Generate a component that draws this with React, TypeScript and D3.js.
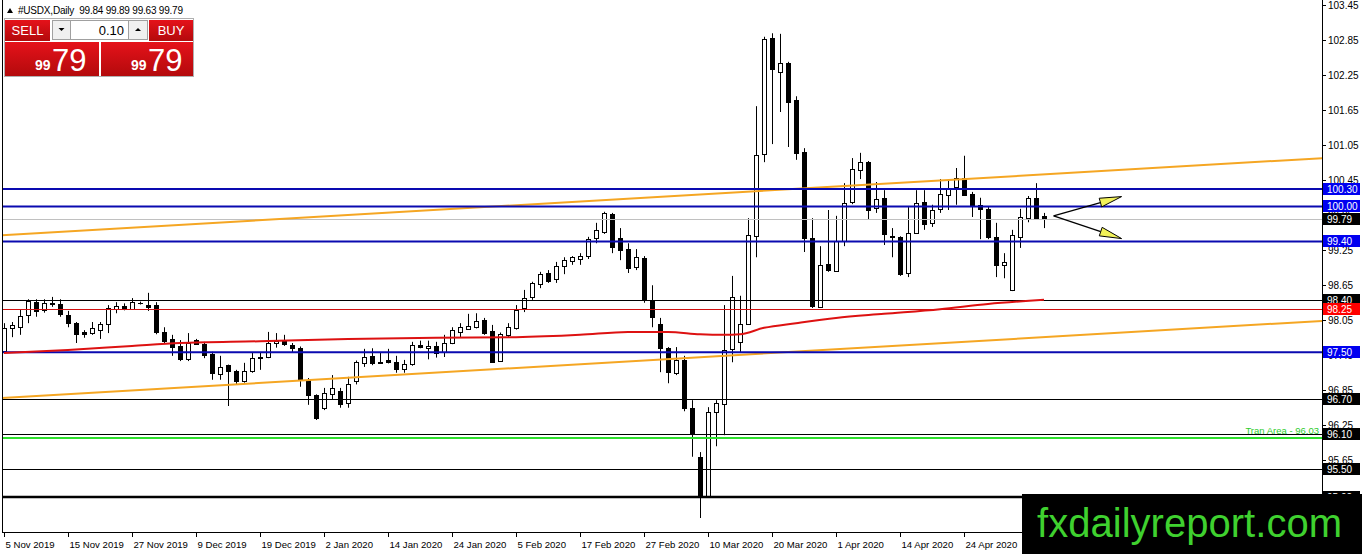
import * as d3 from 'd3';

// daily USDX candles, 5 Nov 2019 .. 8 May 2020
const opens = [
  97.52, 97.92, 97.93, 98.14, 98.36, 98.22, 98.33, 98.33, 98.14, 98.0,
  97.84, 97.83, 97.88, 97.98, 98.24, 98.29, 98.24, 98.35, 98.31, 98.31,
  97.85, 97.73, 97.61, 97.38, 97.71, 97.64, 97.47, 97.13, 97.28, 97.18,
  97.01, 97.18, 97.4, 97.42, 97.66, 97.7, 97.63, 97.58, 97.03, 96.77,
  96.55, 96.79, 96.84, 96.63, 97.0, 97.32, 97.43, 97.32, 97.36, 97.34,
  97.21, 97.3, 97.63, 97.58, 97.61, 97.5, 97.66, 97.85, 97.9, 97.93,
  98.05, 97.86, 97.35, 97.8, 97.91, 98.26, 98.45, 98.67, 98.86, 98.76,
  98.98, 99.07, 99.1, 99.15, 99.46, 99.57, 99.87, 99.46, 99.27, 98.96,
  99.12, 98.4, 97.98, 97.57, 97.15, 97.37, 96.55, 95.71, 95.04, 96.48,
  96.61, 97.56, 97.68, 97.99, 99.49, 100.9, 102.89, 102.31, 102.46, 101.83,
  100.93, 99.46, 98.28, 99.01, 98.89, 99.41, 100.08, 100.63, 100.76, 99.97,
  100.15, 99.49, 99.48, 98.86, 99.55, 100.08, 99.72, 99.96, 100.2, 100.34,
  100.49, 100.21, 100.03, 99.96, 99.48, 99.0, 98.57, 99.48, 99.8, 100.15,
  99.84,
];
const highs = [
  98.0, 98.02, 98.23, 98.41, 98.41, 98.41, 98.45, 98.41, 98.21, 98.02,
  97.88, 98.02, 98.02, 98.31, 98.36, 98.34, 98.43, 98.37, 98.52, 98.36,
  97.93, 97.8, 97.71, 97.83, 97.73, 97.68, 97.51, 97.44, 97.29, 97.2,
  97.32, 97.49, 97.49, 97.85, 97.83, 97.8, 97.66, 97.6, 97.06, 96.78,
  96.89, 97.11, 96.89, 97.08, 97.36, 97.56, 97.57, 97.49, 97.56, 97.44,
  97.37, 97.68, 97.7, 97.7, 97.68, 97.8, 97.93, 98.0, 98.16, 98.17,
  98.09, 97.97, 97.84, 98.0, 98.31, 98.57, 98.71, 98.88, 98.91, 99.05,
  99.13, 99.15, 99.2, 99.48, 99.72, 99.91, 99.89, 99.63, 99.37, 99.27,
  99.15, 98.65, 98.09, 97.59, 97.59, 97.44, 96.68, 95.79, 96.56, 96.68,
  98.31, 98.81, 98.47, 99.8, 101.72, 102.91, 102.97, 102.96, 102.48, 101.89,
  101.0, 99.8, 99.32, 99.94, 99.84, 100.4, 100.83, 100.92, 100.78, 100.42,
  100.28, 99.63, 99.49, 99.99, 100.28, 100.28, 100.03, 100.47, 100.47, 100.66,
  100.87, 100.25, 100.15, 99.99, 99.72, 99.2, 99.6, 99.96, 100.18, 100.4,
  99.89,
];
const lows = [
  97.5, 97.76, 97.8, 98.0, 98.11, 98.18, 98.28, 98.11, 97.93, 97.66,
  97.75, 97.8, 97.73, 97.83, 98.17, 98.22, 98.23, 98.32, 98.21, 97.81,
  97.66, 97.44, 97.35, 97.35, 97.63, 97.4, 97.03, 97.03, 96.58, 96.94,
  96.98, 97.15, 97.2, 97.4, 97.58, 97.61, 97.49, 96.91, 96.6, 96.34,
  96.51, 96.7, 96.55, 96.55, 96.95, 97.25, 97.28, 97.31, 97.31, 97.15,
  97.15, 97.27, 97.57, 97.38, 97.41, 97.42, 97.64, 97.76, 97.89, 97.91,
  97.8, 97.32, 97.34, 97.76, 97.89, 98.19, 98.4, 98.6, 98.69, 98.69,
  98.84, 99.0, 99.0, 99.1, 99.37, 99.53, 99.2, 99.08, 98.86, 98.91,
  98.35, 97.93, 97.16, 96.97, 97.11, 96.49, 95.71, 94.66, 95.02, 95.89,
  96.08, 97.33, 97.49, 97.99, 99.13, 100.76, 101.07, 101.62, 101.02, 100.8,
  99.22, 98.26, 98.28, 98.88, 98.88, 99.32, 100.04, 100.47, 99.77, 99.89,
  99.34, 99.13, 98.81, 98.79, 99.53, 99.6, 99.65, 99.89, 99.94, 100.03,
  100.18, 99.82, 99.44, 99.44, 98.79, 98.77, 98.55, 99.29, 99.73, 99.78,
  99.63,
];
const closes = [
  97.92, 97.97, 98.12, 98.38, 98.21, 98.34, 98.35, 98.16, 98.0, 97.81,
  97.82, 97.92, 97.99, 98.26, 98.29, 98.25, 98.36, 98.34, 98.28, 97.85,
  97.69, 97.59, 97.38, 97.66, 97.65, 97.45, 97.15, 97.25, 97.18, 97.01,
  97.18, 97.4, 97.42, 97.66, 97.7, 97.65, 97.58, 97.03, 96.77, 96.37,
  96.8, 96.89, 96.61, 96.96, 97.33, 97.42, 97.32, 97.34, 97.33, 97.21,
  97.3, 97.63, 97.59, 97.61, 97.48, 97.66, 97.88, 97.93, 97.95, 98.04,
  97.83, 97.33, 97.81, 97.93, 98.22, 98.43, 98.69, 98.84, 98.72, 98.98,
  99.08, 99.13, 99.15, 99.44, 99.6, 99.89, 99.31, 99.25, 98.95, 99.13,
  98.4, 98.11, 97.57, 97.16, 97.37, 96.55, 96.12, 95.05, 96.48, 96.63,
  97.54, 98.45, 97.99, 99.51, 100.88, 102.87, 102.36, 102.46, 101.79, 100.92,
  99.46, 98.29, 99.0, 98.91, 99.41, 100.06, 100.64, 100.76, 99.94, 100.13,
  99.53, 99.47, 98.84, 99.55, 100.06, 99.7, 99.94, 100.21, 100.32, 100.49,
  100.2, 100.01, 99.96, 99.48, 99.0, 99.05, 99.51, 99.82, 100.15, 99.8,
  99.79,
];

const dateLabels = [
  '5 Nov 2019', '15 Nov 2019', '27 Nov 2019', '9 Dec 2019', '19 Dec 2019', '2 Jan 2020',
  '14 Jan 2020', '24 Jan 2020', '5 Feb 2020', '17 Feb 2020', '27 Feb 2020', '10 Mar 2020',
  '20 Mar 2020', '1 Apr 2020', '14 Apr 2020', '24 Apr 2020',
];
const barsPerLabel = 8;

const priceTicks = [
  103.45, 102.85, 102.25, 101.65, 101.05, 100.45, 99.85, 99.25, 98.65, 98.05, 97.45,
  96.85, 96.25, 95.65, 95.05,
];

// moving average (bar index -> value)
const maIndex = [0, 8, 16, 22, 32, 43, 54, 64, 72, 78, 83, 87, 90, 92, 95, 99, 104, 110, 117, 123, 130];
const maValues = [
  97.49, 97.54, 97.61, 97.66, 97.69, 97.73, 97.75, 97.76, 97.8, 97.85, 97.85, 97.81,
  97.8, 97.81, 97.92, 98.0, 98.09, 98.16, 98.24, 98.33, 98.4,
];

const channelUpper: [number, number][] = [[0, 99.51], [165, 100.83]];
const channelLower: [number, number][] = [[0, 96.72], [165, 98.04]];

const blueLevels = [100.3, 100.0, 99.4, 97.5];
const blackLevels = [98.4, 96.7, 96.1, 95.5];
const redLevel = 98.25;
const lastPrice = 99.79;
const bottomLevel = 95.02;
const tranLevel = 96.03;

const arrowFrom: [number, number] = [131.2, 99.84];
const arrowTo: [number, number][] = [[139.7, 100.17], [139.7, 99.45]];

const W = 1362;
const H = 554;
const plotLeft = 2;
const plotRight = 1322;
const plotBottom = 532;
const font = '"Liberation Sans", Arial, sans-serif';

const x = d3.scaleLinear().domain([0, 130]).range([4, 1044]);
const y = d3.scaleLinear().domain([100.3, 95.5]).range([189, 469]);

const crisp = (v: number) => Math.round(v) + 0.5;

function channelPath(pts: [number, number][]) {
  const [[i0, v0], [i1, v1]] = pts;
  const slope = (v1 - v0) / (i1 - i0);
  const a = -2;
  const b = i1 + 2;
  return d3.line()([
    [x(a), y(v0 + slope * (a - i0))],
    [x(b), y(v0 + slope * (b - i0))],
  ])!;
}

const AxisLabel = ({ v, bg }: { v: number; bg: string }) => (
  <g>
    <rect x={plotRight + 1} y={Math.round(y(v)) - 6} width={37} height={12} fill={bg} />
    <text x={plotRight + 5} y={Math.round(y(v)) + 4} fill="#fff" fontSize={10} fontFamily={font}>
      {v.toFixed(2)}
    </text>
  </g>
);

const Arrow = ({ to }: { to: [number, number] }) => {
  const x0 = x(arrowFrom[0]);
  const y0 = y(arrowFrom[1]);
  const x1 = x(to[0]);
  const y1 = y(to[1]);
  const len = Math.hypot(x1 - x0, y1 - y0);
  const ux = (x1 - x0) / len;
  const uy = (y1 - y0) / len;
  const bx = x1 - ux * 22;
  const by = y1 - uy * 22;
  const head = [
    [x1, y1],
    [bx - uy * 4.5, by + ux * 4.5],
    [bx + uy * 4.5, by - ux * 4.5],
  ];
  return (
    <g>
      <line x1={x0} y1={y0} x2={bx} y2={by} stroke="#000" strokeWidth={1.3} />
      <polygon points={head.map((p) => p.join(',')).join(' ')} fill="#f2f25a" stroke="#000" strokeWidth={1} />
    </g>
  );
};

const PriceBox = ({ left, w }: { left: number; w: number }) => (
  <g>
    <rect x={left} y={42} width={w} height={34} fill="url(#redPanel)" />
    <text x={left + 30} y={70} fill="#fff" fontSize={14} fontWeight="bold" fontFamily={font}>
      99
    </text>
    <text x={left + 47} y={71} fill="#fff" fontSize={31} fontFamily={font}>
      79
    </text>
  </g>
);

export default function App() {
  const maLine = d3
    .line<number>()
    .x((i) => x(i))
    .y((_, k) => y(maValues[k]))
    .curve(d3.curveMonotoneX);

  return (
    <div style={{ position: 'fixed', left: 0, top: 0 }}>
      <svg width={W} height={H} style={{ display: 'block', background: '#fff' }}>
        <defs>
          <clipPath id="plot">
            <rect x={plotLeft} y={0} width={plotRight - plotLeft} height={plotBottom} />
          </clipPath>
          <linearGradient id="redPanel" x1="0" y1="0" x2="0" y2="1">
            <stop offset="0" stopColor="#e5121a" />
            <stop offset="1" stopColor="#b30a0c" />
          </linearGradient>
        </defs>

        <g clipPath="url(#plot)">
          {/* candles */}
          {opens.map((o, i) => {
            const c = closes[i];
            const cx = crisp(x(i));
            const top = Math.round(y(Math.max(o, c))) + 0.5;
            const bot = Math.round(y(Math.min(o, c))) + 0.5;
            return (
              <g key={i}>
                <line x1={cx} x2={cx} y1={y(highs[i])} y2={y(lows[i])} stroke="#000" />
                {bot - top < 1 ? (
                  <line x1={cx - 2.5} x2={cx + 2.5} y1={top} y2={top} stroke="#000" />
                ) : (
                  <rect
                    x={cx - 2}
                    y={top}
                    width={4}
                    height={bot - top}
                    fill={c >= o ? '#fff' : '#000'}
                    stroke="#000"
                  />
                )}
              </g>
            );
          })}

          {/* levels */}
          <line x1={plotLeft} x2={plotRight} y1={crisp(y(lastPrice))} y2={crisp(y(lastPrice))} stroke="#c0c0c0" />
          {blackLevels.map((v) => (
            <line key={v} x1={plotLeft} x2={plotRight} y1={crisp(y(v))} y2={crisp(y(v))} stroke="#000" />
          ))}
          <line x1={plotLeft} x2={plotRight} y1={y(bottomLevel)} y2={y(bottomLevel)} stroke="#000" strokeWidth={2.5} />
          <line x1={plotLeft} x2={plotRight} y1={y(tranLevel)} y2={y(tranLevel)} stroke="#2ee02e" strokeWidth={2} />
          <line x1={plotLeft} x2={plotRight} y1={crisp(y(redLevel))} y2={crisp(y(redLevel))} stroke="#d01010" />
          <path d={channelPath(channelUpper)} fill="none" stroke="#f5a623" strokeWidth={2} />
          <path d={channelPath(channelLower)} fill="none" stroke="#f5a623" strokeWidth={2} />
          {blueLevels.map((v) => (
            <line key={v} x1={plotLeft} x2={plotRight} y1={y(v)} y2={y(v)} stroke="#0a0ab0" strokeWidth={2} />
          ))}
          <path d={maLine(maIndex)!} fill="none" stroke="#dd1111" strokeWidth={2} />
          <text
            x={plotRight - 3}
            y={y(tranLevel) - 4}
            textAnchor="end"
            fill="#2ecc2e"
            fontSize={9.5}
            fontFamily={font}
          >
            Tran Area - 96.03
          </text>
          {arrowTo.map((t, k) => (
            <Arrow key={k} to={t} />
          ))}
        </g>

        {/* frame and axes */}
        <line x1={plotLeft + 0.5} x2={plotLeft + 0.5} y1={0} y2={plotBottom} stroke="#000" />
        <line x1={plotRight + 0.5} x2={plotRight + 0.5} y1={0} y2={plotBottom} stroke="#000" />
        <line x1={plotLeft} x2={plotRight + 1} y1={plotBottom + 0.5} y2={plotBottom + 0.5} stroke="#000" />

        {priceTicks.map((v) => (
          <g key={v}>
            <line x1={plotRight} x2={plotRight + 4} y1={crisp(y(v))} y2={crisp(y(v))} stroke="#000" />
            <text x={plotRight + 6} y={Math.round(y(v)) + 4} fontSize={10} fontFamily={font} fill="#000">
              {v.toFixed(2)}
            </text>
          </g>
        ))}

        {blueLevels.map((v) => (
          <AxisLabel key={v} v={v} bg="#0000f0" />
        ))}
        {blackLevels.map((v) => (
          <AxisLabel key={v} v={v} bg="#000" />
        ))}
        <AxisLabel v={lastPrice} bg="#000" />
        <AxisLabel v={redLevel} bg="#ff0000" />
        <AxisLabel v={bottomLevel} bg="#000" />

        {dateLabels.map((d, k) => {
          const tx = crisp(x(k * barsPerLabel));
          return (
            <g key={d}>
              <line x1={tx} x2={tx} y1={plotBottom} y2={plotBottom + 5} stroke="#000" />
              <text x={tx + 1} y={plotBottom + 16} fontSize={9.6} fontFamily={font} fill="#000">
                {d}
              </text>
            </g>
          );
        })}

        {/* watermark */}
        <rect x={1022} y={494} width={W - 1022} height={H - 494} fill="#000" />
        <text x={1037} y={537} fontSize={40} fontFamily={font} fill="#3fd12f" textLength={305}>
          fxdailyreport.com
        </text>

        {/* header */}
        <polygon points="7,13 13,13 10,8" fill="#000" />
        <text x={18} y={14} fontSize={10} fontFamily={font} fill="#000" xmlSpace="preserve" textLength={165}>
          #USDX,Daily  99.84 99.89 99.63 99.79
        </text>

        {/* trade panel */}
        <rect x={4.5} y={18.5} width={189} height={58} fill="#fff" stroke="#b0b0b0" />
        <rect x={5} y={20} width={45} height={21} fill="url(#redPanel)" />
        <text x={27.5} y={35} textAnchor="middle" fontSize={13} fontFamily={font} fill="#fff">
          SELL
        </text>
        <rect x={52.5} y={20.5} width={18} height={19} fill="#f0f0f0" stroke="#a0a0a0" />
        <polygon points="58.5,28 64.5,28 61.5,31" fill="#000" />
        <rect x={70.5} y={20.5} width={58} height={19} fill="#fff" stroke="#a0a0a0" />
        <text x={124} y={35} textAnchor="end" fontSize={13} fontFamily={font} fill="#000">
          0.10
        </text>
        <rect x={128.5} y={20.5} width={19} height={19} fill="#f0f0f0" stroke="#a0a0a0" />
        <polygon points="135,31 141,31 138,28" fill="#000" />
        <rect x={149} y={20} width={44} height={21} fill="url(#redPanel)" />
        <text x={171} y={35} textAnchor="middle" fontSize={13} fontFamily={font} fill="#fff">
          BUY
        </text>
        <PriceBox left={5} w={94} />
        <PriceBox left={101} w={92} />
      </svg>
    </div>
  );
}
